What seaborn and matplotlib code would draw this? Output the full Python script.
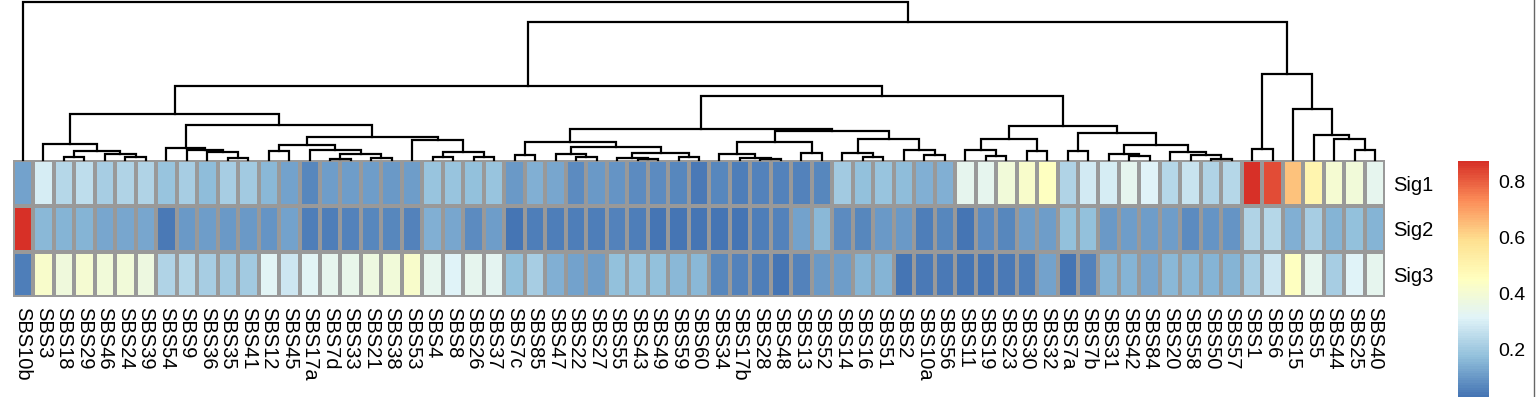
import pandas as pd
import seaborn as sns
import matplotlib.pyplot as plt
from matplotlib.colors import LinearSegmentedColormap
from matplotlib.lines import Line2D

plt.rcParams['font.family'] = ['Liberation Sans', 'DejaVu Sans']

signatures = ['SBS10b', 'SBS3', 'SBS18', 'SBS29', 'SBS46', 'SBS24', 'SBS39', 'SBS54', 'SBS9',
              'SBS36', 'SBS35', 'SBS41', 'SBS12', 'SBS45', 'SBS17a', 'SBS7d', 'SBS33', 'SBS21',
              'SBS38', 'SBS53', 'SBS4', 'SBS8', 'SBS26', 'SBS37', 'SBS7c', 'SBS85', 'SBS47',
              'SBS22', 'SBS27', 'SBS55', 'SBS43', 'SBS49', 'SBS59', 'SBS60', 'SBS34', 'SBS17b',
              'SBS28', 'SBS48', 'SBS13', 'SBS52', 'SBS14', 'SBS16', 'SBS51', 'SBS2', 'SBS10a',
              'SBS56', 'SBS11', 'SBS19', 'SBS23', 'SBS30', 'SBS32', 'SBS7a', 'SBS7b', 'SBS31',
              'SBS42', 'SBS84', 'SBS20', 'SBS58', 'SBS50', 'SBS57', 'SBS1', 'SBS6', 'SBS15',
              'SBS5', 'SBS44', 'SBS25', 'SBS40']
rows = ['Sig1', 'Sig2', 'Sig3']

sig1 = [0.12, 0.30, 0.24, 0.25, 0.21, 0.23, 0.23, 0.19, 0.21, 0.17, 0.21, 0.20, 0.16, 0.12,
        0.07, 0.11, 0.11, 0.11, 0.10, 0.11, 0.19, 0.19, 0.18, 0.19, 0.10, 0.14, 0.13, 0.08,
        0.10, 0.09, 0.08, 0.08, 0.07, 0.04, 0.07, 0.05, 0.06, 0.06, 0.06, 0.07, 0.20, 0.18,
        0.19, 0.17, 0.14, 0.14, 0.34, 0.34, 0.39, 0.42, 0.45, 0.23, 0.29, 0.30, 0.34, 0.31,
        0.24, 0.27, 0.23, 0.24, 0.87, 0.83, 0.64, 0.50, 0.41, 0.39, 0.34]
sig2 = [0.87, 0.16, 0.15, 0.15, 0.13, 0.13, 0.13, 0.04, 0.10, 0.11, 0.10, 0.10, 0.09, 0.12,
        0.05, 0.05, 0.06, 0.07, 0.07, 0.06, 0.14, 0.13, 0.08, 0.11, 0.03, 0.05, 0.05, 0.05,
        0.05, 0.06, 0.05, 0.03, 0.03, 0.03, 0.03, 0.03, 0.05, 0.06, 0.12, 0.16, 0.08, 0.07,
        0.10, 0.10, 0.05, 0.07, 0.03, 0.08, 0.07, 0.11, 0.11, 0.18, 0.18, 0.10, 0.11, 0.11,
        0.11, 0.08, 0.09, 0.09, 0.23, 0.24, 0.14, 0.21, 0.15, 0.18, 0.15]
sig3 = [0.05, 0.42, 0.38, 0.41, 0.39, 0.39, 0.37, 0.23, 0.24, 0.21, 0.20, 0.20, 0.32, 0.28,
        0.32, 0.34, 0.35, 0.37, 0.39, 0.42, 0.34, 0.31, 0.34, 0.33, 0.18, 0.21, 0.14, 0.12,
        0.11, 0.18, 0.19, 0.18, 0.16, 0.16, 0.07, 0.06, 0.05, 0.03, 0.06, 0.10, 0.11, 0.15,
        0.15, 0.03, 0.04, 0.04, 0.03, 0.03, 0.04, 0.05, 0.12, 0.03, 0.06, 0.15, 0.15, 0.13,
        0.16, 0.16, 0.15, 0.15, 0.21, 0.28, 0.45, 0.34, 0.21, 0.31, 0.34]

# column clustering, each merge is (left, right, height)
clade_a = ('SBS3', (('SBS18', 'SBS29', 3.3), ('SBS46', ('SBS24', 'SBS39', 3.0), 6.7), 9.0), 16.7)
clade_b1 = ('SBS54', ('SBS9', ('SBS36', ('SBS35', 'SBS41', 2.3), 8.3), 10.0), 12.3)
clade_b2 = (('SBS12', 'SBS45', 9.0),
            ('SBS17a', (('SBS7d', 'SBS33', 1.7), ('SBS21', 'SBS38', 2.3), 6.0), 10.7), 15.7)
clade_b3 = ('SBS53', (('SBS4', 'SBS8', 3.3), ('SBS26', 'SBS37', 3.3), 8.3), 20.0)
clade_c = (('SBS7c', 'SBS85', 5.0),
           (('SBS47', ('SBS22', 'SBS27', 3.3), 6.7),
            (('SBS55', ('SBS43', 'SBS49', 1.3), 2.3), ('SBS59', 'SBS60', 3.3), 7.3), 13.3), 18.3)
clade_d = (('SBS34', ('SBS17b', ('SBS28', 'SBS48', 1.7), 2.7), 6.7), ('SBS13', 'SBS52', 7.3), 18.3)
clade_e = (('SBS14', ('SBS16', 'SBS51', 3.3), 7.3), ('SBS2', ('SBS10a', 'SBS56', 5.0), 10.7), 21.0)
clade_f = (('SBS11', ('SBS19', 'SBS23', 4.3), 10.0), ('SBS30', 'SBS32', 9.3), 21.0)
clade_g = (('SBS7a', 'SBS7b', 9.3),
           (('SBS31', ('SBS42', 'SBS84', 4.3), 6.0),
            ('SBS20', ('SBS58', ('SBS50', 'SBS57', 1.7), 5.7), 8.3), 15.7), 27.7)
clade_h = (('SBS1', 'SBS6', 11.0),
           ('SBS15', ('SBS5', ('SBS44', ('SBS25', 'SBS40', 10.7), 21.7), 25.7), 51.0), 86.7)

left_group = (clade_a, (clade_b1, (clade_b2, clade_b3, 23.3), 35.7), 46.7)
mid_group = ((clade_c, (clade_d, clade_e, 29.3), 31.7), (clade_f, clade_g, 34.7), 64.3)
tree = ('SBS10b', ((left_group, mid_group, 74.0), clade_h, 138.0), 158.0)

df = pd.DataFrame([sig1, sig2, sig3], index=rows, columns=signatures)

# pheatmap default palette
cmap = LinearSegmentedColormap.from_list(
    'rdylbu_r', ['#4575B4', '#91BFDB', '#E0F3F8', '#FFFFBF', '#FEE090', '#FC8D59', '#D73027'], N=100)

W, H = 1536, 397
fig = plt.figure(figsize=(W / 100, H / 100), dpi=100)
x0, x1 = 12.7, 1385.3
y_top, y_bot = 160.3, 297.3
ax_hm = fig.add_axes([x0 / W, (H - y_bot) / H, (x1 - x0) / W, (y_bot - y_top) / H])
ax_dn = fig.add_axes([x0 / W, (H - y_top) / H, (x1 - x0) / W, y_top / H])
ax_cb = fig.add_axes([1457.7 / W, 0, 31.3 / W, (H - 161) / H])

sns.heatmap(df, ax=ax_hm, cmap=cmap, vmin=0.03, vmax=0.875, linewidths=1.5,
            linecolor='#999999', cbar_ax=ax_cb, xticklabels=True, yticklabels=True)
ax_hm.yaxis.tick_right()
ax_hm.tick_params(axis='y', length=0, pad=6, labelsize=14.5, labelrotation=0)
ax_hm.tick_params(axis='x', length=0, pad=7, labelsize=14.5)
plt.setp(ax_hm.get_xticklabels(), rotation=270, ha='center', va='top')
ax_hm.set_xlabel('')
ax_hm.set_ylabel('')

cbar = ax_hm.collections[0].colorbar
cbar.set_ticks([0.2, 0.4, 0.6, 0.8])
cbar.outline.set_visible(False)
ax_cb.tick_params(length=0, pad=7, labelsize=14)

# dendrogram
pos = {name: i + 0.5 for i, name in enumerate(signatures)}


def draw(node):
    if isinstance(node, str):
        return pos[node], 0.0
    left, right, h = node
    xa, ha = draw(left)
    xb, hb = draw(right)
    ax_dn.plot([xa, xa, xb, xb], [ha, h, h, hb], color='black', lw=1.6,
               solid_joinstyle='miter', clip_on=False)
    return (xa + xb) / 2, h


draw(tree)
ax_dn.set_xlim(0, len(signatures))
ax_dn.set_ylim(0, y_top)
ax_dn.axis('off')

fig.add_artist(Line2D([1533.5 / W] * 2, [0, 1], color='#666666', lw=1))

fig.savefig('out.png', dpi=100)
